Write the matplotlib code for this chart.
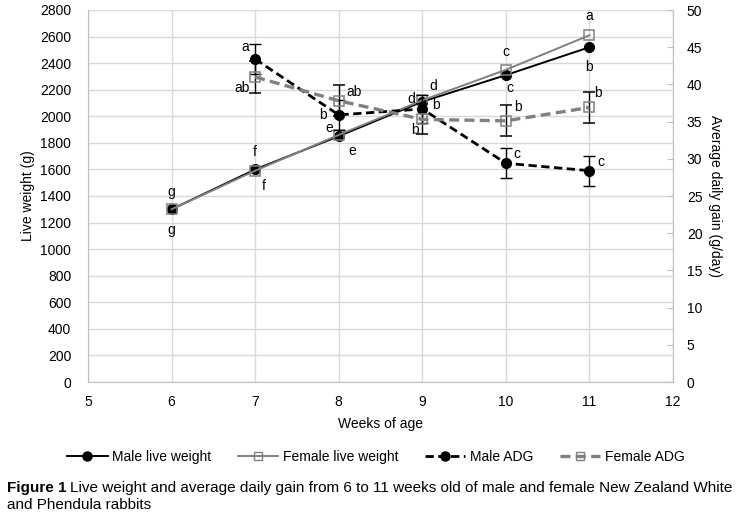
import matplotlib
matplotlib.use("Agg")
import matplotlib.pyplot as plt
from matplotlib.lines import Line2D

plt.rcParams['font.family'] = ['Liberation Sans', 'DejaVu Sans']

weeks = [6, 7, 8, 9, 10, 11]
male_lw = [1300, 1600, 1850, 2110, 2310, 2520]
female_lw = [1300, 1590, 1860, 2120, 2350, 2610]
adg_weeks = [7, 8, 9, 10, 11]
male_adg = [43.4, 35.9, 36.7, 29.4, 28.4]
male_adg_err = [2.0, 2.0, 1.9, 2.0, 2.0]
female_adg = [41.0, 37.8, 35.3, 35.1, 36.9]
female_adg_err = [2.1, 2.1, 2.0, 2.1, 2.1]

male_lw_letters = ['g', 'f', 'e', 'd', 'c', 'b']
female_lw_letters = ['g', 'f', 'e', 'd', 'c', 'a']
male_adg_letters = ['a', 'b', 'b', 'c', 'c']
female_adg_letters = ['ab', 'ab', 'b', 'b', 'b']

# label offsets in pixels (style)
male_lw_off = [(0, 17), (0, 17), (-9, 8), (-11, 3), (4, -13), (0, -20)]
female_lw_off = [(0, -21), (9, -15), (14, -16), (11, 14), (0, 18), (0, 19)]
male_adg_off = [(-10, 12), (-16, 0), (14, 4), (11, 9), (11, 9)]
female_adg_off = [(-13, -11), (15, 9), (-7, -11), (12, 14), (9, 14)]

GRAY = '#808080'
GRID = '#d9d9d9'
SPINE = '#bfbfbf'
FS = 10

fig = plt.figure(figsize=(7.46, 5.15), dpi=100)
ax = fig.add_axes([88/746, 1-382/515, (673-88)/746, (382-10)/515])
ax2 = ax.twinx()

ax.set_xlim(5, 12)
ax.set_ylim(0, 2800)
ax.set_xticks(range(5, 13))
ax.set_yticks(range(0, 2801, 200))
ax2.set_ylim(0, 50)
ax2.set_yticks(range(0, 51, 5))

ax.grid(True, color=GRID, lw=1)
ax.set_axisbelow(True)
for a in (ax, ax2):
    for s in a.spines.values():
        s.set_color(SPINE)
    a.spines['top'].set_visible(False)
ax2.spines['left'].set_visible(False)
ax2.spines['bottom'].set_visible(False)
ax.spines['right'].set_visible(False)

ax.tick_params(axis='y', length=0, pad=12, labelsize=FS, colors='#000000')
ax.tick_params(axis='x', length=0, pad=9, labelsize=FS, colors='#000000')
ax2.tick_params(axis='y', direction='in', length=4, color=SPINE, pad=10, labelsize=FS, labelcolor='#000000')

ax.plot(weeks, male_lw, color='black', lw=1.4, marker='o', ms=7, mfc='black', mec='black', zorder=3)
ax.plot(weeks, female_lw, color=GRAY, lw=1.4, marker='s', ms=6.5, mfc='none', mec=GRAY, mew=1.1, zorder=4)

ax2.errorbar(adg_weeks, male_adg, yerr=male_adg_err, color='black', lw=2, ls=(0, (3, 1.6)),
             marker='o', ms=7, mfc='black', mec='black', ecolor='black', elinewidth=1, capsize=4, capthick=1, zorder=3)
ax2.errorbar(adg_weeks, female_adg, yerr=female_adg_err, color=GRAY, lw=2.4, ls=(0, (3, 1.6)),
             marker='s', ms=6.5, mfc='none', mec=GRAY, mew=1.1, ecolor='black', elinewidth=1, capsize=4, capthick=1, zorder=4)

def labels(a, xs, ys, letters, offs):
    for x, y, t, (dx, dy) in zip(xs, ys, letters, offs):
        a.annotate(t, (x, y), xytext=(dx, dy), textcoords='offset pixels',
                   ha='center', va='center', fontsize=FS, zorder=6)

labels(ax, weeks, male_lw, male_lw_letters, male_lw_off)
labels(ax, weeks, female_lw, female_lw_letters, female_lw_off)
labels(ax2, adg_weeks, male_adg, male_adg_letters, male_adg_off)
labels(ax2, adg_weeks, female_adg, female_adg_letters, female_adg_off)

ax.set_xlabel('Weeks of age', fontsize=FS, labelpad=6)
ax.set_ylabel('Live weight (g)', fontsize=FS, labelpad=4)
ax2.set_ylabel('Average daily gain (g/day)', fontsize=FS, rotation=270, labelpad=14)

handles = [
    Line2D([], [], color='black', lw=1.4, marker='o', ms=6.5, mfc='black', mec='black'),
    Line2D([], [], color=GRAY, lw=1.4, marker='s', ms=6, mfc='none', mec=GRAY),
    Line2D([], [], color='black', lw=2, ls=(0, (3, 1.6)), marker='o', ms=6.5, mfc='black', mec='black'),
    Line2D([], [], color=GRAY, lw=2.4, ls=(0, (3, 1.6)), marker='s', ms=6, mfc='none', mec=GRAY),
]
fig.legend(handles, ['Male live weight', 'Female live weight', 'Male ADG', 'Female ADG'],
           loc='center', bbox_to_anchor=(376/746, 1-457/515), ncol=4, frameon=False,
           fontsize=FS, handlelength=2.9, columnspacing=1.9, handletextpad=0.35)

cap_fs = 11
fig.canvas.draw()
r = fig.canvas.get_renderer()
t1 = fig.text(7/746, 1-488/515, 'Figure 1', fontsize=cap_fs, fontweight='bold', va='center', ha='left')
bb = t1.get_window_extent(renderer=r)
fig.text((bb.x1 + 4)/746, 1-488/515,
         'Live weight and average daily gain from 6 to 11 weeks old of male and female New Zealand White',
         fontsize=cap_fs, va='center', ha='left')
fig.text(7/746, 1-505/515, 'and Phendula rabbits', fontsize=cap_fs, va='center', ha='left')

fig.savefig('out.png', dpi=100)
